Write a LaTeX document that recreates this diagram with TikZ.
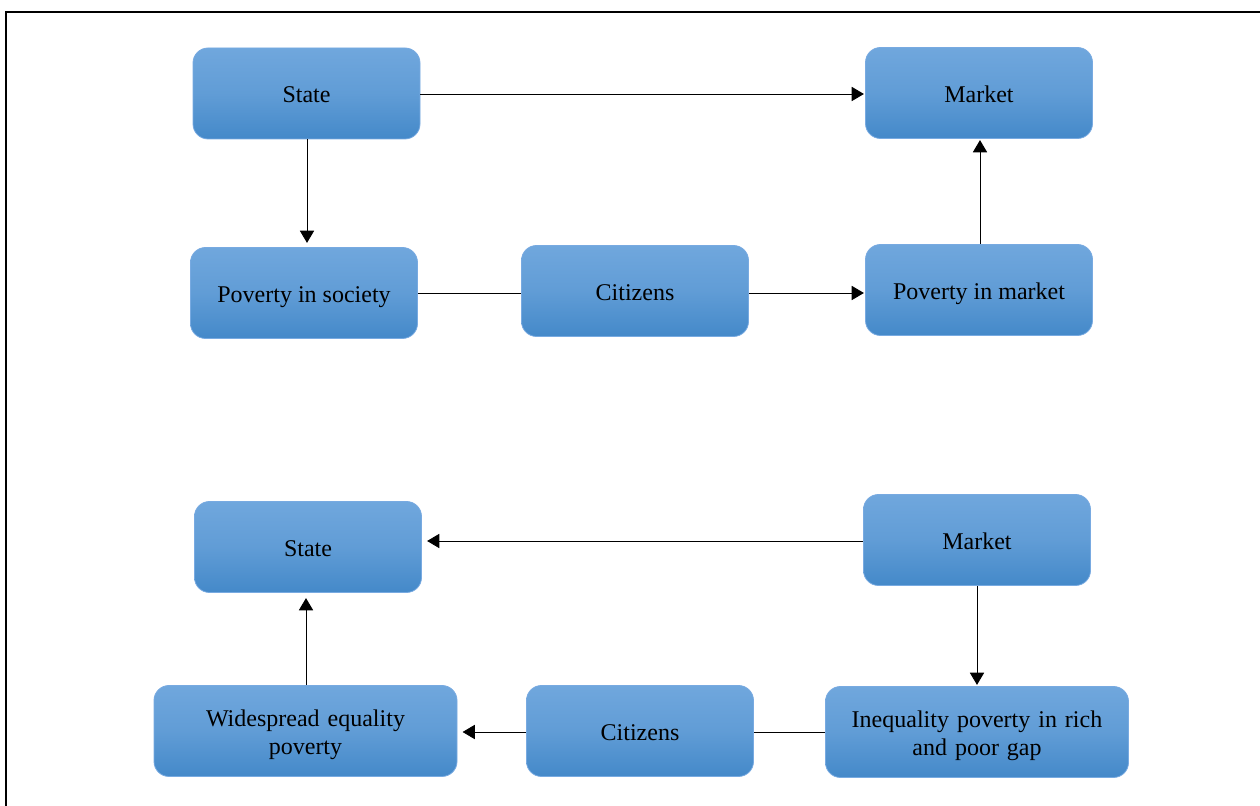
\documentclass[tikz,border=0pt]{standalone}
\usepackage{fontspec}
\setmainfont{Liberation Serif}
\usetikzlibrary{arrows.meta}
\definecolor{boxtop}{RGB}{112,167,221}
\definecolor{boxbot}{RGB}{68,137,201}
\definecolor{boxline}{RGB}{120,170,225}
\begin{document}
\begin{tikzpicture}[x=0.5pt, y=-0.5pt]
\tikzset{ >={Triangle[length=7pt,width=8pt]}, line width=1pt,
  blok/.style={draw=boxline, line width=0.4pt, rounded corners=7.5pt,
    top color=boxtop, bottom color=boxbot, middle color=boxtop!65!boxbot,
    minimum width=113.5pt, minimum height=45.5pt, inner sep=2pt,
    text height=9.5pt, text depth=0pt,
    font=\fontsize{12}{14}\selectfont, align=center},
  wide/.style={blok, minimum width=151.5pt, text width=140pt,
    text height=9.5pt, text depth=14pt},
}

\useasboundingbox (0,0) rectangle (1260,806);

% frame
\draw [line width=1pt] (6,806) -- (6,12) -- (1260,12);

% upper diagram
\node [blok] (S1) at (306.5,93.5) {State};
\node [blok] (M1) at (979,93) {Market};
\node [blok] (PS) at (304,293) {Poverty in society};
\node [blok] (C1) at (635,291) {Citizens};
\node [blok] (PM) at (979,290) {Poverty in market};

\draw [->] (S1.east |- 0,94) -- (M1.west |- 0,94);
\draw [->, shorten >=1.5pt] (S1.south -| 307,0) -- (PS.north -| 307,0);
\draw (PS.east |- 0,293) -- (C1.west |- 0,293);
\draw [->] (C1.east |- 0,293) -- (PM.west |- 0,293);
\draw [->] (PM.north -| 980,0) -- (M1.south -| 980,0);

% lower diagram
\node [blok] (S2) at (308,547) {State};
\node [blok] (M2) at (977,540) {Market};
\node [wide] (WP) at (305.5,731) {Widespread equality\\poverty};
\node [blok] (C2) at (640,731) {Citizens};
\node [wide] (IP) at (977,732) {Inequality poverty in rich\\and poor gap};

\draw [->, shorten >=2pt] (M2.west |- 0,541) -- (S2.east |- 0,541);
\draw [->] (M2.south -| 977,0) -- (IP.north -| 977,0);
\draw (IP.west |- 0,732) -- (C2.east |- 0,732);
\draw [->, shorten >=2pt] (C2.west |- 0,732) -- (WP.east |- 0,732);
\draw [->, shorten >=2pt] (WP.north -| 306,0) -- (S2.south -| 306,0);

\end{tikzpicture}
\end{document}
